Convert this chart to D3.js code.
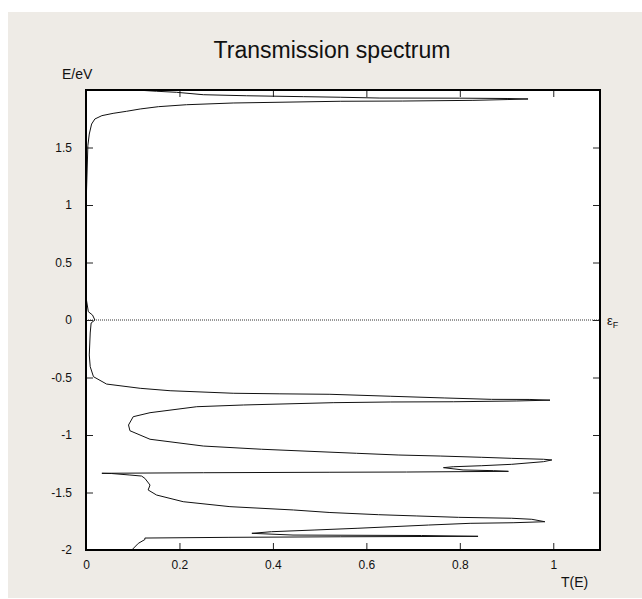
<!DOCTYPE html>
<html>
<head>
<meta charset="utf-8">
<script src="https://cdn.jsdelivr.net/npm/d3@7"></script>
<style>
  body { margin: 0; background: #fff; }
  svg { display: block; font-family: "Liberation Sans", Arial, sans-serif; }
</style>
</head>
<body>
<div class="canvas"></div>
<script>
// energy (eV) and transmission, ordered by energy
const energy = [
  -2.000, -1.942, -1.909, -1.896, -1.890, -1.885, -1.881, -1.874, -1.870, -1.855,
  -1.841, -1.826, -1.811, -1.783, -1.768, -1.763, -1.754, -1.733, -1.724, -1.716,
  -1.704, -1.693, -1.674, -1.652, -1.623, -1.580, -1.522, -1.478, -1.435, -1.377,
  -1.357, -1.348, -1.335, -1.333, -1.328, -1.324, -1.322, -1.316, -1.310, -1.304,
  -1.284, -1.276, -1.267, -1.255, -1.232, -1.217, -1.211, -1.203, -1.194, -1.183,
  -1.174, -1.159, -1.124, -1.096, -1.037, -0.963, -0.913, -0.841, -0.806, -0.754,
  -0.739, -0.719, -0.713, -0.711, -0.704, -0.697, -0.691, -0.690, -0.678, -0.663,
  -0.646, -0.642, -0.637, -0.615, -0.594, -0.557, -0.493, -0.406, -0.304, -0.113,
  -0.026, 0.000, 0.043, 0.072, 0.174, 0.600, 1.040, 1.516, 1.617, 1.704,
  1.748, 1.777, 1.797, 1.815, 1.835, 1.855, 1.872, 1.887, 1.902, 1.904,
  1.910, 1.917, 1.922, 1.926, 1.929, 1.930, 1.937, 1.942, 1.950, 1.959,
  1.980, 1.989, 1.996
];
const transmission = [
  0.098, 0.112, 0.126, 0.126, 0.304, 0.544, 0.839, 0.718, 0.443, 0.355,
  0.397, 0.490, 0.582, 0.733, 0.822, 0.914, 0.982, 0.954, 0.911, 0.797,
  0.708, 0.626, 0.522, 0.444, 0.308, 0.208, 0.151, 0.133, 0.137, 0.126,
  0.119, 0.094, 0.055, 0.034, 0.251, 0.522, 0.686, 0.904, 0.872, 0.807,
  0.765, 0.786, 0.847, 0.911, 0.979, 0.997, 0.979, 0.911, 0.847, 0.758,
  0.668, 0.579, 0.376, 0.251, 0.137, 0.094, 0.091, 0.101, 0.137, 0.237,
  0.337, 0.529, 0.651, 0.786, 0.922, 0.993, 0.950, 0.868, 0.768, 0.651,
  0.522, 0.415, 0.315, 0.180, 0.116, 0.044, 0.016, 0.009, 0.007, 0.009,
  0.011, 0.019, 0.014, 0.005, 0.001, 0.0005, 0.0005, 0.004, 0.007, 0.012,
  0.019, 0.034, 0.058, 0.087, 0.116, 0.155, 0.215, 0.315, 0.544, 0.678,
  0.828, 0.903, 0.946, 0.903, 0.800, 0.629, 0.544, 0.465, 0.344, 0.251,
  0.194, 0.151, 0.123
];

const xTicks = [0, 0.2, 0.4, 0.6, 0.8, 1];
const xTickLabels = ["0", "0.2", "0.4", "0.6", "0.8", "1"];
const yTicks = [-2, -1.5, -1, -0.5, 0, 0.5, 1, 1.5];
const yTickLabels = ["-2", "-1.5", "-1", "-0.5", "0", "0.5", "1", "1.5"];
const fermiLevel = 0;

const width = 642, height = 599;
const plot = { left: 86, right: 600, top: 90, bottom: 550 };

const svg = d3.select('.canvas')
  .append('svg')
  .attr('width', width)
  .attr('height', height);

// beige panel
svg.append('rect')
  .attr('x', 8).attr('y', 12)
  .attr('width', width - 8).attr('height', height - 13)
  .attr('fill', '#eeebe6');

const x = d3.scaleLinear().domain([0, 1.1]).range([plot.left, plot.right]);
const y = d3.scaleLinear().domain([-2, 2]).range([plot.bottom, plot.top]);

// plot area
svg.append('rect')
  .attr('x', plot.left).attr('y', plot.top)
  .attr('width', plot.right - plot.left).attr('height', plot.bottom - plot.top)
  .attr('fill', '#fff');

const tickLen = 7;

// bottom + top ticks
const xAxisB = svg.append('g')
  .attr('transform', `translate(0, ${plot.bottom})`)
  .call(d3.axisBottom(x).tickValues(xTicks).tickSizeInner(-tickLen).tickSizeOuter(0)
    .tickPadding(10).tickFormat((d, i) => xTickLabels[i]));
const xAxisT = svg.append('g')
  .attr('transform', `translate(0, ${plot.top})`)
  .call(d3.axisTop(x).tickValues(xTicks).tickSizeInner(-tickLen).tickSizeOuter(0)
    .tickFormat(''));

// left + right ticks
const yAxisL = svg.append('g')
  .attr('transform', `translate(${plot.left}, 0)`)
  .call(d3.axisLeft(y).tickValues(yTicks).tickSizeInner(-tickLen).tickSizeOuter(0)
    .tickPadding(14).tickFormat((d, i) => yTickLabels[i]));
const yAxisR = svg.append('g')
  .attr('transform', `translate(${plot.right}, 0)`)
  .call(d3.axisRight(y).tickValues(yTicks).tickSizeInner(-tickLen).tickSizeOuter(0)
    .tickFormat(''));

[xAxisB, xAxisT, yAxisL, yAxisR].forEach(g => {
  g.select('.domain').remove();
  g.selectAll('line').attr('stroke', '#222').attr('stroke-width', 1);
  g.selectAll('text')
    .attr('font-family', '"Liberation Sans", Arial, sans-serif')
    .attr('font-size', 12)
    .attr('fill', '#111');
});

// fermi level (dotted)
svg.append('line')
  .attr('x1', plot.left).attr('x2', plot.right)
  .attr('y1', y(fermiLevel)).attr('y2', y(fermiLevel))
  .attr('stroke', '#333')
  .attr('stroke-width', 1)
  .attr('stroke-dasharray', '1,1');

// transmission curve
const points = energy.map((e, i) => ({ e: e, t: transmission[i] }));
const line = d3.line()
  .x(d => x(d.t))
  .y(d => y(d.e));

svg.append('path')
  .datum(points)
  .attr('d', line)
  .attr('fill', 'none')
  .attr('stroke', '#111')
  .attr('stroke-width', 1);

// frame
svg.append('rect')
  .attr('x', plot.left).attr('y', plot.top)
  .attr('width', plot.right - plot.left).attr('height', plot.bottom - plot.top)
  .attr('fill', 'none')
  .attr('stroke', '#000')
  .attr('stroke-width', 2);

// title and labels
svg.append('text')
  .attr('x', 332).attr('y', 58)
  .attr('text-anchor', 'middle')
  .attr('font-size', 23)
  .attr('fill', '#111')
  .text('Transmission spectrum');

svg.append('text')
  .attr('x', 62).attr('y', 79)
  .attr('font-size', 14)
  .attr('fill', '#111')
  .text('E/eV');

svg.append('text')
  .attr('x', 561).attr('y', 587)
  .attr('font-size', 14)
  .attr('fill', '#111')
  .text('T(E)');

const eps = svg.append('text')
  .attr('x', 607).attr('y', 325)
  .attr('font-size', 13)
  .attr('fill', '#111');
eps.append('tspan').text('ε');
eps.append('tspan').attr('font-size', 9).attr('dy', 3).text('F');
</script>
</body>
</html>
